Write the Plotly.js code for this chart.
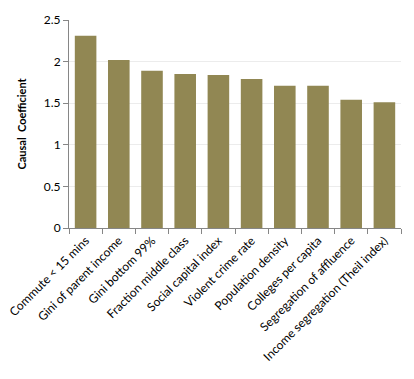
<!DOCTYPE html>
<html>
<head>
<meta charset="utf-8">
<script src="https://cdn.plot.ly/plotly-3.0.1.min.js"></script>
<style>html,body{margin:0;padding:0;background:#fff;}#chart{width:414px;height:379px;}</style>
</head>
<body>
<div id="chart"></div>
<script>
const categories = [
  "Commute < 15 mins",
  "Gini of parent income",
  "Gini bottom 99%",
  "Fraction middle class",
  "Social capital index",
  "Violent crime rate",
  "Population density",
  "Colleges per capita",
  "Segregation of affluence",
  "Income segregation (Theil index)"
];
const coefficients = [2.31, 2.02, 1.89, 1.85, 1.84, 1.79, 1.71, 1.71, 1.54, 1.51];
const yTickValues = [0, 0.5, 1, 1.5, 2, 2.5];
const yTickLabels = ["0", "0.5", "1", "1.5", "2", "2.5"];

const font = "Lato, 'Open Sans', sans-serif";
Plotly.newPlot("chart", [{
  type: "bar",
  x: categories,
  y: coefficients,
  marker: {color: "#918753", line: {width: 0}},
  width: 0.65,
  hoverinfo: "x+y"
}], {
  width: 414, height: 379,
  margin: {l: 69, r: 13, t: 20, b: 151},
  paper_bgcolor: "#fff", plot_bgcolor: "#fff",
  showlegend: false,
  font: {family: font, size: 12, color: "#000"},
  xaxis: {
    tickangle: -45,
    showline: true, linecolor: "#868686", linewidth: 1,
    ticks: "outside", ticklen: 5, tickcolor: "#868686",
    tickson: "boundaries",
    showgrid: false,
    tickfont: {family: font, size: 12, color: "#000"}
  },
  yaxis: {
    range: [0, 2.5],
    tickvals: yTickValues, ticktext: yTickLabels,
    showline: true, linecolor: "#868686", linewidth: 1,
    ticks: "outside", ticklen: 5, tickcolor: "#868686",
    showgrid: true, gridcolor: "#ececec", gridwidth: 1,
    zeroline: false,
    tickfont: {family: font, size: 12, color: "#000"},
    title: {text: "<b>Causal  Coefficient</b>", font: {family: font, size: 11, color: "#000"}, standoff: 14}
  }
}, {displayModeBar: false, staticPlot: true});
</script>
</body>
</html>
